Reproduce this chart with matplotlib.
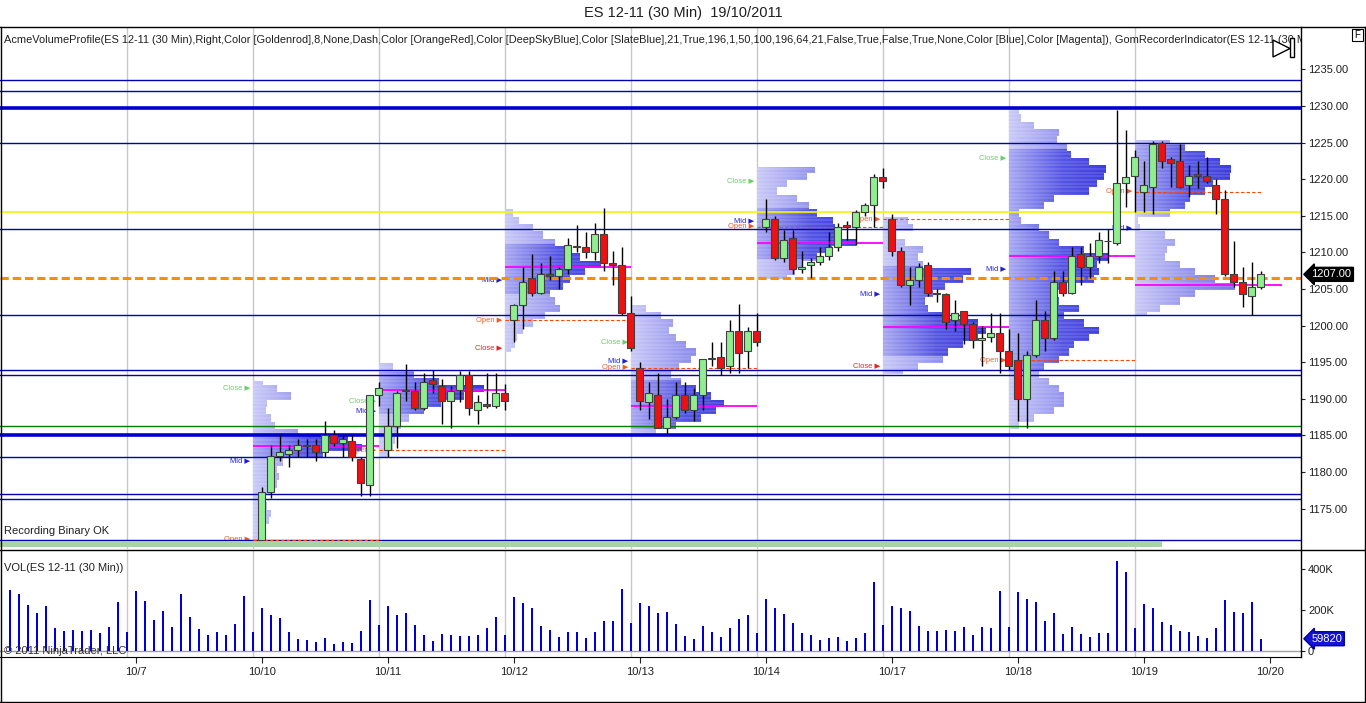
import numpy as np
import matplotlib.pyplot as plt
from matplotlib.patches import Rectangle, Polygon, PathPatch
from matplotlib.path import Path
from matplotlib.lines import Line2D
from matplotlib.colors import LinearSegmentedColormap
from matplotlib.transforms import blended_transform_factory

plt.rcParams['font.family'] = ['Liberation Sans', 'DejaVu Sans']

# ---- data ----
title = 'ES 12-11 (30 Min)  19/10/2011'
indicator_text = ('AcmeVolumeProfile(ES 12-11 (30 Min),Right,Color [Goldenrod],8,None,Dash,'
                  'Color [OrangeRed],Color [DeepSkyBlue],Color [SlateBlue],21,True,196,1,50,100,'
                  '196,64,21,False,True,False,True,None,Color [Blue],Color [Magenta]), '
                  'GomRecorderIndicator(ES 12-11 (30 Min))')

date_labels = ['10/7', '10/10', '10/11', '10/12', '10/13', '10/14', '10/17', '10/18', '10/19', '10/20']
bars_per_day = 14

# volume of every 30 min bar, in thousands (10/6 .. 10/19)
volume = [299, 278, 224, 187, 221, 114, 99, 104, 99, 104, 89, 119, 241, 94,
          294, 246, 153, 197, 119, 280, 167, 109, 80, 94, 80, 133, 270, 94,
          211, 177, 163, 94, 60, 55, 46, 65, 36, 46, 41, 99, 250, 128,
          221, 177, 187, 128, 80, 50, 85, 80, 75, 75, 80, 114, 167, 80,
          265, 236, 210, 124, 104, 70, 94, 94, 65, 94, 148, 148, 304, 138,
          236, 221, 187, 192, 133, 73, 59, 122, 93, 68, 112, 156, 176, 88,
          254, 210, 180, 137, 88, 78, 54, 63, 68, 49, 63, 88, 337, 127,
          220, 210, 195, 122, 98, 98, 102, 98, 117, 78, 117, 112, 293, 117,
          288, 254, 239, 146, 185, 83, 117, 83, 68, 88, 88, 439, 385, 112,
          229, 210, 141, 127, 98, 93, 73, 63, 112, 249, 190, 185, 239, 59.82]

# candles visible in the price range start with 10/10 (bar 28)
first_candle = 28
opens = [1170.75, 1177.25, 1182.25, 1182.5, 1183.0, 1183.75, 1183.75, 1182.75, 1185.0, 1184.0, 1184.25, 1181.75, 1178.25, 1190.5,
         1183.0, 1186.25, 1191.0, 1191.0, 1188.75, 1192.5, 1191.75, 1189.75, 1191.25, 1193.25, 1188.5, 1189.25, 1189.0, 1190.75,
         1200.75, 1202.75, 1206.5, 1204.5, 1207.0, 1206.75, 1207.75, 1210.75, 1210.75, 1210.0, 1212.5, 1208.5, 1208.25, 1201.75,
         1194.25, 1189.5, 1190.5, 1186.0, 1187.5, 1190.5, 1188.5, 1190.5, 1195.5, 1195.75, 1194.5, 1199.25, 1196.5, 1199.25,
         1213.5, 1214.5, 1209.25, 1212.0, 1207.75, 1208.25, 1208.75, 1209.5, 1210.75, 1213.75, 1213.5, 1215.5, 1216.5, 1220.25,
         1214.5, 1210.25, 1205.5, 1206.25, 1208.25, 1204.5, 1204.25, 1200.75, 1202.0, 1200.25, 1198.0, 1198.5, 1199.0, 1196.5,
         1195.25, 1190.0, 1196.0, 1200.75, 1198.25, 1206.0, 1204.5, 1209.75, 1208.0, 1209.5, 1211.5, 1211.25, 1219.5, 1220.5,
         1218.25, 1219.0, 1225.0, 1222.75, 1222.5, 1219.25, 1220.75, 1220.5, 1219.25, 1217.25, 1207.0, 1206.0, 1204.0, 1205.25]
highs = [1178.0, 1183.75, 1185.25, 1183.75, 1184.5, 1184.5, 1184.5, 1187.0, 1185.75, 1185.0, 1185.0, 1182.0, 1190.5, 1192.25,
         1188.75, 1191.0, 1194.75, 1192.25, 1193.5, 1194.0, 1192.75, 1191.75, 1193.75, 1193.75, 1190.5, 1193.5, 1193.5, 1192.0,
         1203.0, 1208.0, 1209.75, 1208.5, 1209.5, 1208.0, 1212.0, 1213.75, 1212.75, 1214.0, 1216.0, 1210.25, 1210.75, 1204.0,
         1195.0, 1192.25, 1193.5, 1190.0, 1192.25, 1192.25, 1191.5, 1195.5, 1197.75, 1197.75, 1200.75, 1203.0, 1199.75, 1201.75,
         1217.25, 1215.0, 1213.0, 1213.0, 1210.25, 1209.25, 1210.75, 1212.75, 1214.0, 1214.25, 1215.75, 1216.75, 1220.75, 1221.5,
         1215.25, 1210.75, 1208.0, 1208.5, 1208.75, 1205.0, 1204.5, 1203.5, 1202.0, 1200.5, 1200.0, 1201.75, 1201.75, 1199.5,
         1199.0, 1196.5, 1203.5, 1202.0, 1207.5, 1207.5, 1210.75, 1210.75, 1211.25, 1212.75, 1213.25, 1229.5, 1226.75, 1224.0,
         1222.5, 1225.25, 1225.25, 1223.0, 1224.75, 1222.0, 1222.5, 1223.0, 1220.0, 1218.5, 1211.5, 1208.0, 1208.75, 1207.5]
lows = [1170.75, 1176.5, 1181.5, 1180.75, 1182.0, 1182.0, 1181.5, 1182.0, 1183.5, 1182.0, 1181.5, 1176.75, 1176.75, 1189.0,
        1182.0, 1183.25, 1189.75, 1188.5, 1188.5, 1190.75, 1186.5, 1186.0, 1189.5, 1187.75, 1186.5, 1188.75, 1188.75, 1188.5,
        1197.75, 1199.5, 1204.0, 1204.25, 1206.25, 1205.0, 1207.0, 1210.0, 1209.25, 1209.0, 1207.5, 1205.5, 1201.5, 1196.5,
        1188.5, 1187.25, 1186.0, 1185.25, 1187.25, 1188.0, 1187.0, 1188.5, 1194.5, 1193.25, 1193.5, 1193.5, 1194.25, 1197.25,
        1212.75, 1209.0, 1208.75, 1207.0, 1207.25, 1206.5, 1208.25, 1209.0, 1210.25, 1211.75, 1211.0, 1215.0, 1213.5, 1218.75,
        1209.5, 1205.25, 1202.75, 1205.25, 1204.0, 1203.25, 1199.5, 1199.25, 1197.5, 1197.0, 1194.5, 1197.75, 1193.5, 1194.0,
        1187.0, 1186.0, 1195.75, 1196.5, 1198.0, 1204.0, 1204.25, 1205.5, 1206.5, 1208.5, 1208.5, 1211.0, 1216.25, 1215.5,
        1215.5, 1215.25, 1221.5, 1219.0, 1218.75, 1217.5, 1218.75, 1219.5, 1215.25, 1206.75, 1205.25, 1202.5, 1201.5, 1205.0]
closes = [1177.25, 1182.25, 1182.75, 1183.0, 1183.75, 1183.5, 1182.75, 1185.0, 1184.0, 1184.5, 1182.0, 1178.5, 1190.5, 1191.5,
          1186.25, 1190.75, 1191.25, 1188.75, 1192.25, 1192.0, 1189.75, 1191.0, 1193.25, 1188.75, 1189.5, 1189.0, 1190.75, 1189.75,
          1202.75, 1206.0, 1204.5, 1207.0, 1206.75, 1207.75, 1211.0, 1210.75, 1210.0, 1212.5, 1208.5, 1208.25, 1201.75, 1197.0,
          1189.75, 1190.75, 1186.0, 1187.5, 1190.5, 1188.5, 1190.5, 1195.5, 1195.5, 1194.25, 1199.25, 1196.25, 1199.25, 1197.75,
          1214.5, 1209.25, 1211.75, 1207.75, 1208.0, 1208.75, 1209.5, 1210.75, 1213.5, 1213.5, 1215.5, 1216.5, 1220.25, 1219.75,
          1210.25, 1205.5, 1206.25, 1208.0, 1204.5, 1204.25, 1200.5, 1201.75, 1200.25, 1198.0, 1198.25, 1199.0, 1196.5, 1194.5,
          1190.0, 1196.0, 1200.75, 1198.25, 1206.0, 1204.5, 1209.5, 1208.0, 1209.5, 1211.75, 1211.5, 1219.5, 1220.25, 1223.0,
          1219.25, 1224.75, 1222.5, 1222.25, 1219.0, 1220.5, 1220.5, 1219.75, 1217.25, 1207.0, 1206.0, 1204.25, 1205.25, 1207.0]

# volume profile per day (10/10 .. 10/19): lowest 1-point bin and relative volume per bin
profile_low = [1170, 1182, 1196, 1185, 1206, 1193, 1186, 1201]
profiles = [
    [6, 7, 12, 16, 18, 14, 10, 18, 24, 26, 24, 30, 70, 110, 95, 45, 22, 18, 13, 14, 38, 24, 10],
    [10, 14, 16, 18, 22, 30, 45, 62, 85, 105, 60, 35, 14],
    [6, 10, 12, 18, 28, 40, 55, 50, 45, 58, 65, 80, 96, 75, 62, 50, 38, 28, 14, 8],
    [25, 45, 70, 85, 93, 80, 65, 50, 40, 48, 60, 65, 55, 45, 38, 42, 30, 15],
    [30, 38, 45, 60, 75, 99, 85, 78, 76, 60, 52, 40, 20, 30, 50, 58],
    [20, 35, 60, 65, 80, 95, 103, 95, 60, 45, 42, 50, 62, 80, 88, 40, 35, 40, 22, 13, 30, 25],
    [10, 25, 45, 55, 55, 50, 40, 30, 35, 50, 60, 65, 80, 90, 75, 55, 70, 50, 45, 55, 85, 90, 88, 100,
     75, 50, 40, 30, 12, 10, 35, 45, 80, 88, 95, 97, 80, 62, 58, 48, 50, 25, 12, 10],
    [12, 25, 45, 60, 100, 80, 60, 45, 30, 32, 40, 30, 5, 3, 35, 50, 55, 70, 78, 95, 96, 85, 70, 50, 35],
]
value_area_low = [1182.0, 1188.0, 1204.5, 1186.0, 1209.25, 1196.0, 1194.0, 1215.5]
value_area_high = [1185.25, 1193.5, 1211.0, 1192.5, 1216.0, 1208.0, 1224.0, 1224.5]
poc_price = [1183.5, 1191.25, 1208.0, 1189.0, 1211.25, 1199.75, 1209.5, 1205.5]

# horizontal levels drawn across the chart
blue_levels = [1233.5, 1232.0, 1225.0, 1213.25, 1201.5, 1194.0, 1193.25, 1182.0, 1177.0, 1176.25, 1170.75]
thick_blue_levels = [1229.75, 1185.0]
yellow_level = 1215.5
green_level = 1186.25
orange_level = 1206.5
last_price = 1207.00

price_ticks = [1175, 1180, 1185, 1190, 1195, 1200, 1205, 1210, 1215, 1220, 1225, 1230, 1235]

# ---- figure layout (pixel based, 1366 x 703) ----
W, H = 1366, 703
fig = plt.figure(figsize=(W / 100, H / 100), dpi=100)


def fx(px):
    return px / W


def fy(py):
    return 1 - py / H


ax = fig.add_axes([0, fy(549), fx(1301), fy(27) - fy(549)])
axv = fig.add_axes([0, fy(657), fx(1301), fy(550) - fy(657)])

n_bars = len(volume)
idx = np.arange(n_bars)
x_left, x_right = -9.6 / 9, (1301 - 9.6) / 9
price_lo, price_hi = 1169.48, 1240.79

for a in (ax, axv):
    for d in range(len(date_labels) - 1):
        a.axvline(bars_per_day * (d + 1) - 1, color='#c8c8c8', lw=1, zorder=0)
    a.spines['left'].set_visible(False)
    a.spines['top'].set_visible(False)
    a.spines['right'].set_linewidth(1)
    a.yaxis.tick_right()
    a.tick_params(axis='y', direction='out', length=3, labelsize=8, colors='#202020', pad=2)

ax.spines['bottom'].set_visible(False)
ax.set_xticks([])
ax.set_yticks(price_ticks)
ax.set_yticklabels(['%.2f' % p for p in price_ticks])


def rects_path(rects):
    # one compound path out of many rectangles (x0, y0, w, h)
    verts, codes = [], []
    for x0, y0, w, h in rects:
        verts += [(x0, y0), (x0 + w, y0), (x0 + w, y0 + h), (x0, y0 + h), (x0, y0)]
        codes += [Path.MOVETO, Path.LINETO, Path.LINETO, Path.LINETO, Path.CLOSEPOLY]
    return Path(verts, codes)


# ---- volume profiles, shaded light -> dark from the left edge ----
light_cmap = LinearSegmentedColormap.from_list('light', ['#cacaf7', '#9494ef', '#7272e8'])
dark_cmap = LinearSegmentedColormap.from_list('dark', ['#a8a8f2', '#5454e4', '#3838dc'])
grad = np.linspace(0, 1, 256).reshape(1, -1)
grad_len = 12.0

n_days = len(profiles)
for d in range(n_days):
    first = first_candle + d * bars_per_day
    last = first + bars_per_day - 1
    start = first - 1
    day_high = max(highs[first - first_candle:last - first_candle + 1])
    day_low = min(lows[first - first_candle:last - first_candle + 1])
    light_rects, dark_rects = [], []
    stripe_y, stripe_w = [], []
    for k, w in enumerate(profiles[d]):
        for t in range(4):
            tick = profile_low[d] + k + 0.25 * t
            if tick < day_low or tick > day_high:
                continue
            r = (start, tick - 0.125, w / 9, 0.25)
            if value_area_low[d] <= tick <= value_area_high[d]:
                dark_rects.append(r)
            else:
                light_rects.append(r)
            if t % 2 == 0:
                stripe_y.append(tick - 0.125)
                stripe_w.append(w / 9)
    for rects, cmap in ((light_rects, light_cmap), (dark_rects, dark_cmap)):
        if not rects:
            continue
        patch = PathPatch(rects_path(rects), facecolor='none', edgecolor='none', transform=ax.transData)
        ax.add_patch(patch)
        im = ax.imshow(grad, cmap=cmap, aspect='auto', interpolation='bilinear', zorder=1,
                       extent=(start, start + grad_len, day_low - 0.5, day_high + 0.5))
        im.set_clip_path(patch)
    # faint horizontal striping of the per-tick bars
    ax.hlines(stripe_y, start, start + np.array(stripe_w), color='white', lw=0.35, alpha=0.45, zorder=1.5)

    # POC and open lines
    day_open = opens[first - first_candle]
    day_close = closes[last - first_candle]
    day_mid = (day_high + day_low) / 2
    end_poc = last + (2.4 if d == n_days - 1 else 0)
    ax.hlines(poc_price[d], start, end_poc, color='#ff00ff', lw=1.3, zorder=3)
    ax.hlines(day_open, start, last, color='#ff4500', lw=0.8, linestyles=(0, (3, 2)), zorder=3)

    # Open / Mid / Close markers at the left of each profile
    lx = start - 0.25
    mid_y = day_mid if abs(day_mid - day_open) >= 0.9 else day_open + 0.9
    ax.text(lx, mid_y, 'Mid \u25b6', ha='right', va='center', fontsize=5.4, color='#2020d0', zorder=2)
    ax.text(lx, day_open, 'Open \u25b6', ha='right', va='center', fontsize=5.4, color='#f05a28', zorder=2)
    if d < n_days - 1:
        ccol = '#66d066' if day_close >= day_open else '#e82020'
        ax.text(lx, day_close, 'Close \u25b6', ha='right', va='center', fontsize=5.4, color=ccol, zorder=2)

# ---- horizontal levels ----
for lvl in blue_levels:
    ax.axhline(lvl, color='#0000b4', lw=1, zorder=2)
for lvl in thick_blue_levels:
    ax.axhline(lvl, color='#0000d0', lw=2.6, zorder=2)
ax.axhline(yellow_level, color='#f5f500', lw=1.2, zorder=2)
ax.axhline(green_level, color='#008000', lw=1, zorder=2)
ax.axhline(orange_level, color='#ff8c00', lw=2.2, dashes=(2.7, 1.3), zorder=2)

# recorder progress band at the bottom
ax.add_patch(Rectangle((x_left, 1169.7), (1162 - 9.6) / 9 - x_left, 0.85,
                       facecolor='#a6d4a6', edgecolor='none', zorder=2))

# ---- candles ----
for j in range(len(opens)):
    i = first_candle + j
    o, h, l, c = opens[j], highs[j], lows[j], closes[j]
    ax.vlines(i, l, h, color='black', lw=1, zorder=4)
    body_lo = min(o, c)
    body_h = max(abs(c - o), 0.12)
    col = '#90ee90' if c >= o else '#ee1111'
    ax.add_patch(Rectangle((i - 0.37, body_lo), 0.74, body_h, facecolor=col,
                           edgecolor='#404040', lw=0.8, zorder=5))

ax.set_xlim(x_left, x_right)
ax.set_ylim(price_lo, price_hi)

# last price tag
tr = blended_transform_factory(ax.transAxes, ax.transData)
ax.text(1.008, last_price, '%.2f' % last_price, transform=tr, ha='left', va='center',
        fontsize=8, color='white', clip_on=False,
        bbox=dict(boxstyle='larrow,pad=0.18', fc='black', ec='black'))

# ---- volume panel ----
axv.bar(idx, volume, width=0.24, color='#0000d2', zorder=3)
axv.axhline(0, color='#a0a0a0', lw=1, zorder=1)
axv.set_xlim(x_left, x_right)
axv.set_ylim(-29.3, 492.7)
axv.set_yticks([0, 200, 400])
axv.set_yticklabels(['0', '200K', '400K'])
axv.set_xticks([bars_per_day * (k + 1) for k in range(len(date_labels))])
axv.set_xticklabels(date_labels)
axv.tick_params(axis='x', direction='out', length=4, labelsize=8, colors='#202020', pad=3)
trv = blended_transform_factory(axv.transAxes, axv.transData)
axv.text(1.008, volume[-1], '%d' % round(volume[-1] * 1000), transform=trv, ha='left', va='center',
         fontsize=8, color='white', clip_on=False,
         bbox=dict(boxstyle='larrow,pad=0.18', fc='#1414d2', ec='#0000a0'))

# ---- texts ----
fig.text(0.5, fy(13), title, ha='center', va='center', fontsize=10.5, color='#202020')
ax.text(fx(4), fy(40), indicator_text, transform=fig.transFigure, ha='left', va='center',
        fontsize=7.9, color='#202020', clip_on=True)
fig.text(fx(4), fy(531), 'Recording Binary OK', ha='left', va='center', fontsize=8, color='#202020')
fig.text(fx(4), fy(568), 'VOL(ES 12-11 (30 Min))', ha='left', va='center', fontsize=8, color='#202020')
fig.text(fx(4), fy(651), '\u00a9 2011 NinjaTrader, LLC', ha='left', va='center', fontsize=8, color='#303030')


# ---- frame lines, play icon, F box ----
def fig_line(x0, y0, x1, y1, lw=1, color='black'):
    fig.add_artist(Line2D([fx(x0), fx(x1)], [fy(y0), fy(y1)], color=color, lw=lw))


fig_line(0, 26.5, 1366, 26.5)
fig_line(0, 550, 1366, 550)
fig_line(0, 702, 1366, 702)
fig_line(0.5, 26.5, 0.5, 702)
fig_line(1365, 26.5, 1365, 702)

fig.add_artist(Polygon([(fx(1273), fy(40)), (fx(1273), fy(57)), (fx(1290), fy(48.5))],
                       closed=True, facecolor='white', edgecolor='black', lw=1))
fig.add_artist(Rectangle((fx(1290), fy(57)), fx(4), fy(38) - fy(57), facecolor='white',
                         edgecolor='black', lw=1))
fig.add_artist(Rectangle((fx(1352), fy(41)), fx(11), fy(29) - fy(41), fill=False, edgecolor='black', lw=0.8))
fig.text(fx(1357.5), fy(35), 'F', ha='center', va='center', fontsize=7)

fig.savefig('out.png', dpi=100)
